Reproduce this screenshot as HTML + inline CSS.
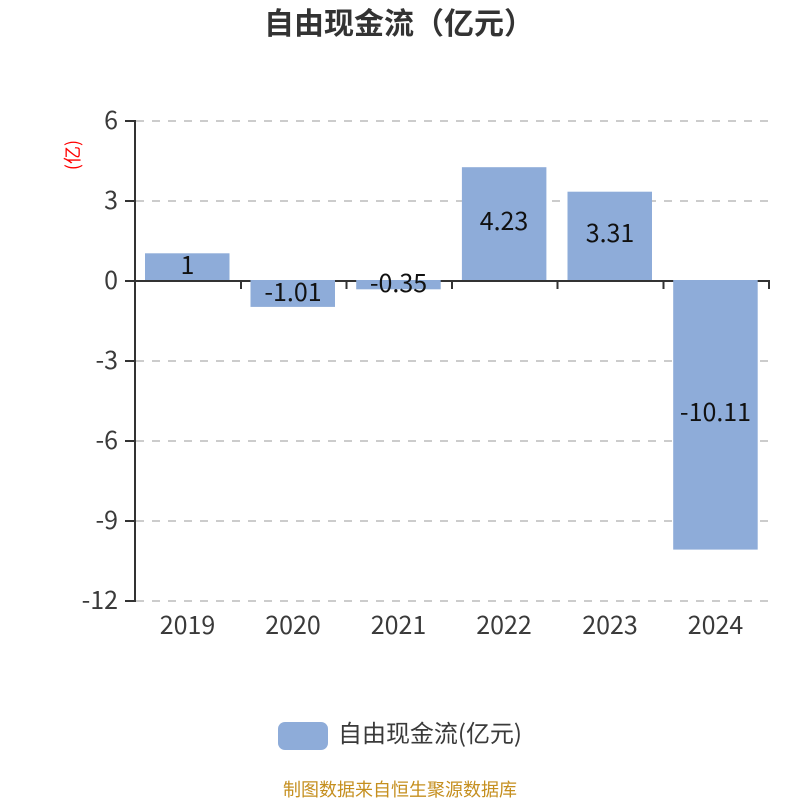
<!DOCTYPE html>
<html><head><meta charset="utf-8"><style>
html,body{margin:0;padding:0;background:#fff}
svg{display:block}
text{font-family:"Liberation Sans","Noto Sans CJK SC",sans-serif}
.n{font-family:"Noto Sans CJK SC","Liberation Sans",sans-serif;font-size:25px}
.a{fill:#3a3a3a;text-anchor:end}
.x{fill:#3a3a3a;text-anchor:middle}
.l{fill:#111;text-anchor:middle}
</style></head><body>
<svg width="800" height="800" viewBox="0 0 800 800" xmlns="http://www.w3.org/2000/svg">
<rect width="800" height="800" fill="#fff"/>
<text x="399" y="34" text-anchor="middle" font-size="30" font-weight="bold" fill="#333" style="font-family:'Noto Sans CJK SC',sans-serif">自由现金流（亿元）</text>
<g stroke="#ccc" stroke-width="2" stroke-dasharray="8 8">
<path d="M136 121H769M136 201H769M136 361H769M136 441H769M136 521H769M136 601H769"/>
</g>
<g stroke="#333" stroke-width="2" fill="none">
<path d="M135 120V602"/>
<path d="M125 281H770"/>
<path d="M125 121H135M125 201H135M125 361H135M125 441H135M125 521H135M125 601H135"/>
<path d="M241 281V289M346.500 281V289M452 281V289M557.500 281V289M663.500 281V289M769 281V289"/>
</g>
<g fill="#8eacd9">
<rect x="145" y="253.300" width="84.500" height="26.700"/>
<rect x="250.500" y="280" width="84.500" height="26.900"/>
<rect x="356.200" y="280" width="84.500" height="9.300"/>
<rect x="461.900" y="167.200" width="84.500" height="112.800"/>
<rect x="567.500" y="191.700" width="84.500" height="88.300"/>
<rect x="673.200" y="280" width="84.500" height="269.600"/>
</g>
<text class="n a" x="118" y="129">6</text>
<text class="n a" x="118" y="209">3</text>
<text class="n a" x="118" y="289">0</text>
<text class="n a" x="118" y="369">-3</text>
<text class="n a" x="118" y="449">-6</text>
<text class="n a" x="118" y="529">-9</text>
<text class="n a" x="118" y="609">-12</text>
<text x="0" y="0" transform="translate(74,155) rotate(-90)" text-anchor="middle" dominant-baseline="middle" font-size="18" fill="#f00" style="font-family:'Noto Sans CJK SC',sans-serif">(亿)</text>
<text class="n x" x="187.500" y="634">2019</text>
<text class="n x" x="293" y="634">2020</text>
<text class="n x" x="398.500" y="634">2021</text>
<text class="n x" x="504" y="634">2022</text>
<text class="n x" x="610" y="634">2023</text>
<text class="n x" x="715.500" y="634">2024</text>
<text class="n l" x="187.500" y="274">1</text>
<text class="n l" x="293" y="301">-1.01</text>
<text class="n l" x="398.500" y="292">-0.35</text>
<text class="n l" x="504" y="230">4.23</text>
<text class="n l" x="610" y="242">3.31</text>
<text class="n l" x="715.500" y="421">-10.11</text>
<rect x="278" y="722" width="50" height="28" rx="7" fill="#8eacd9"/>
<text x="338" y="742" font-size="24" fill="#3a3a3a" style="font-family:'Noto Sans CJK SC',sans-serif" textLength="184">自由现金流(亿元)</text>
<text x="400" y="796" text-anchor="middle" font-size="18" fill="#c58f1f" style="font-family:'Noto Sans CJK SC',sans-serif">制图数据来自恒生聚源数据库</text>
</svg>
</body></html>
